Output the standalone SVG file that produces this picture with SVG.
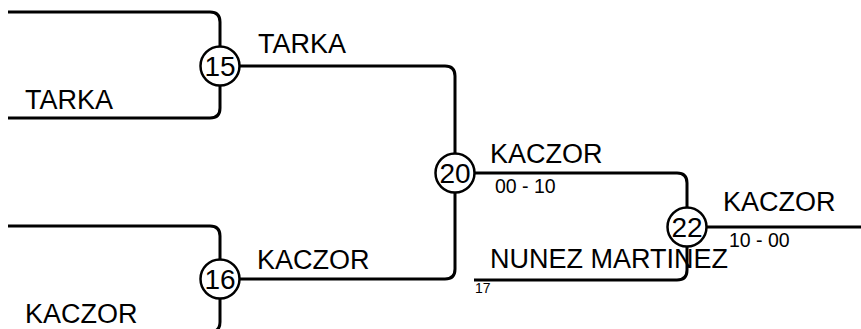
<svg xmlns="http://www.w3.org/2000/svg" width="861" height="329" viewBox="0 0 861 329">
<style>
.ln{fill:none;stroke:#000;stroke-width:3;stroke-linejoin:round}
.nd{fill:#fff;stroke:#000;stroke-width:2.5}
.t{font-family:"Liberation Sans",Arial,sans-serif;fill:#000}
.big{font-size:27px}
.sm{font-size:19.5px}
.xs{font-size:14px}
.num{font-size:28px;text-anchor:middle}
</style>
<rect width="861" height="329" fill="#fff"/>
<g id="connectors">
<path class="ln" d="M8,12 H210 Q220,12 220,22 V66"/>
<path class="ln" d="M220,66 V108 Q220,118 210,118 H8"/>
<path class="ln" d="M8,226 H210 Q220,226 220,236 V279"/>
<path class="ln" d="M220,279 V322 Q220,332 210,332 H8"/>
<path class="ln" d="M220,66 H445 Q455,66 455,76 V173"/>
<path class="ln" d="M220,279 H445 Q455,279 455,269 V173"/>
<path class="ln" d="M455,173 H677 Q687,173 687,183 V227"/>
<path class="ln" d="M474,280 H677 Q687,280 687,270 V227"/>
<path class="ln" d="M687,227 H861"/>
</g>
<g id="labels">
<text class="t big" x="25" y="109">TARKA</text>
<text class="t big" x="258" y="53">TARKA</text>
<text class="t big" x="25" y="323">KACZOR</text>
<text class="t big" x="257" y="269">KACZOR</text>
<text class="t big" x="490" y="163">KACZOR</text>
<text class="t sm" x="495" y="193">00 - 10</text>
<text class="t big" x="723" y="211">KACZOR</text>
<text class="t sm" x="729" y="247">10 - 00</text>
<text class="t big" x="490" y="268">NUNEZ MARTINEZ</text>
<text class="t xs" x="475" y="293">17</text>
</g>
<g id="n15"><circle class="nd" cx="220" cy="66" r="19.5"/><text class="t num" x="220" y="76">15</text></g>
<g id="n16"><circle class="nd" cx="220" cy="279" r="19.5"/><text class="t num" x="220" y="289">16</text></g>
<g id="n20"><circle class="nd" cx="455" cy="173" r="19.5"/><text class="t num" x="455" y="183">20</text></g>
<g id="n22"><circle class="nd" cx="687" cy="227" r="19.5"/><text class="t num" x="687" y="237">22</text></g>
</svg>
